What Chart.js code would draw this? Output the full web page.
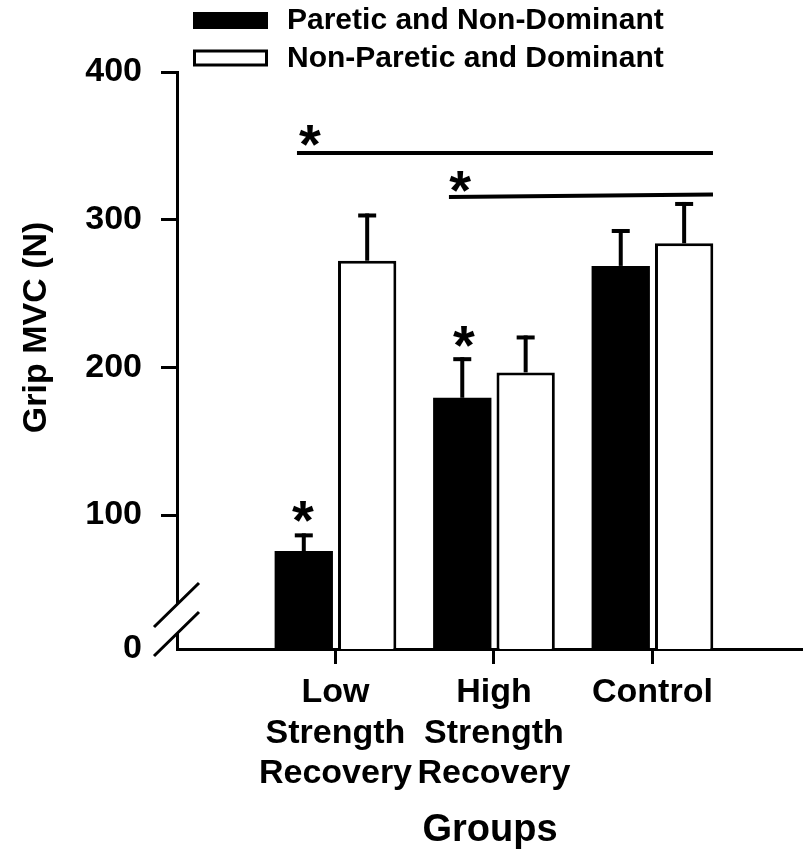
<!DOCTYPE html>
<html>
<head>
<meta charset="utf-8">
<script src="https://cdn.jsdelivr.net/npm/chart.js@4/dist/chart.umd.min.js"></script>
<style>
  html, body { margin: 0; padding: 0; background: #fff; }
  #wrap { width: 803px; height: 855px; position: relative; }
</style>
</head>
<body>
<div id="wrap"><canvas id="gripChart"></canvas></div>
<script>
// groups along the x axis
const groupLabels = [['Low', 'Strength', 'Recovery'], ['High', 'Strength', 'Recovery'], ['Control']];
const groupPos = [1, 2, 3];
const xMax = 3.95;

// Grip MVC (N), mean and upper error
const pareticMean = [75.6, 179.4, 268.7];
const pareticErr = [12, 27.5, 25];
const nonPareticMean = [272.2, 196.6, 284.0];
const nonPareticErr = [32, 25, 28];

// broken y axis: bottom of the axis is labelled 0
const yBreakMin = 9.3;
const yTickValues = [yBreakMin, 100, 200, 300, 400];
const yTickLabels = ['0', '100', '200', '300', '400'];

// significance bars and asterisks (data units)
const sig1X = [0.757, 3.382];
const sig1Y = [345.1, 345.1];
const sig2X = [1.716, 3.382];
const sig2Y = [315.3, 317.0];
const starX = [0.839, 1.786, 0.795, 1.811];
const starY = [357.3, 325.7, 102.7, 220.7];

const FONT = 'Liberation Sans, Arial, sans-serif';
const BLACK = '#000';

const extras = {
    id: 'extras',
    afterDatasetsDraw(chart) {
        const ctx = chart.ctx;
        const yScale = chart.scales.y;
        const errs = [pareticErr, nonPareticErr];
        const means = [pareticMean, nonPareticMean];
        ctx.save();
        ctx.strokeStyle = BLACK;
        ctx.fillStyle = BLACK;
        for (let d = 0; d < 2; d++) {
            const meta = chart.getDatasetMeta(d);
            meta.data.forEach((bar, i) => {
                const yTop = yScale.getPixelForValue(means[d][i] + errs[d][i]);
                ctx.lineWidth = 4;
                ctx.beginPath();
                ctx.moveTo(bar.x, bar.y);
                ctx.lineTo(bar.x, yTop);
                ctx.stroke();
                ctx.fillRect(bar.x - 9, yTop, 18, 4);
            });
        }
        ctx.restore();
    },
    afterDraw(chart) {
        const ctx = chart.ctx;
        const {left, bottom} = chart.chartArea;
        const xs = chart.scales.x, ys = chart.scales.y;
        ctx.save();

        // axis break
        ctx.fillStyle = '#fff';
        ctx.fillRect(left - 4, bottom - 45, 8, 29);
        ctx.strokeStyle = BLACK;
        ctx.lineWidth = 3;
        ctx.beginPath();
        ctx.moveTo(left - 23, bottom - 22);
        ctx.lineTo(left + 22, bottom - 66);
        ctx.moveTo(left - 23, bottom + 7);
        ctx.lineTo(left + 22, bottom - 37);
        ctx.stroke();

        // asterisks
        ctx.fillStyle = BLACK;
        ctx.font = 'bold 56px ' + FONT;
        ctx.textAlign = 'center';
        ctx.textBaseline = 'alphabetic';
        const m = ctx.measureText('*');
        const mid = (m.actualBoundingBoxAscent - m.actualBoundingBoxDescent) / 2;
        starX.forEach((sx, i) => {
            ctx.fillText('*', xs.getPixelForValue(sx), ys.getPixelForValue(starY[i]) + mid);
        });

        // legend
        ctx.textAlign = 'left';
        ctx.textBaseline = 'middle';
        ctx.font = 'bold 30px ' + FONT;
        const rows = [12, 49.5];
        chart.data.datasets.slice(0, 2).forEach((ds, i) => {
            const y = rows[i];
            if (i === 0) {
                ctx.fillStyle = BLACK;
                ctx.fillRect(193, y, 75, 17);
            } else {
                ctx.fillStyle = '#fff';
                ctx.fillRect(193, y, 75, 17);
                ctx.lineWidth = 3;
                ctx.strokeRect(194.5, y + 1.5, 72, 14);
            }
            ctx.fillStyle = BLACK;
            ctx.fillText(ds.label, 287, y + 9);
        });
        ctx.restore();
    }
};

document.addEventListener('DOMContentLoaded', function () {
    const el = document.getElementById('gripChart');
    Chart.defaults.font.family = FONT;
    Chart.defaults.font.weight = 'bold';
    Chart.defaults.color = BLACK;

    new Chart(el, {
        type: 'bar',
        data: {
            datasets: [{
                label: 'Paretic and Non-Dominant',
                data: groupPos.map((x, i) => ({x: x, y: pareticMean[i]})),
                backgroundColor: BLACK,
                borderColor: BLACK,
                borderWidth: 0,
                categoryPercentage: 0.8,
                barPercentage: 0.92
            }, {
                label: 'Non-Paretic and Dominant',
                data: groupPos.map((x, i) => ({x: x, y: nonPareticMean[i]})),
                backgroundColor: '#fff',
                borderColor: BLACK,
                borderWidth: 3,
                categoryPercentage: 0.8,
                barPercentage: 0.92
            }, {
                type: 'line',
                label: 'sig1',
                data: sig1X.map((x, i) => ({x: x, y: sig1Y[i]})),
                borderColor: BLACK,
                borderWidth: 4,
                pointRadius: 0,
                fill: false
            }, {
                type: 'line',
                label: 'sig2',
                data: sig2X.map((x, i) => ({x: x, y: sig2Y[i]})),
                borderColor: BLACK,
                borderWidth: 4,
                pointRadius: 0,
                fill: false
            }]
        },
        options: {
            responsive: true,
            maintainAspectRatio: false,
            animation: false,
            layout: { padding: { left: 0, right: 0, top: 72, bottom: 0 } },
            scales: {
                x: {
                    type: 'linear',
                    min: 0,
                    max: xMax,
                    offset: false,
                    afterBuildTicks: scale => { scale.ticks = groupPos.map(v => ({value: v})); },
                    afterFit: scale => { scale.height = 206; },
                    grid: {
                        offset: false,
                        drawOnChartArea: false,
                        drawTicks: true,
                        tickLength: 15,
                        tickWidth: 3,
                        tickColor: BLACK
                    },
                    border: { display: true, color: BLACK, width: 3 },
                    ticks: {
                        autoSkip: false,
                        maxRotation: 0,
                        padding: 8,
                        font: { size: 34, weight: 'bold', lineHeight: 1.2 },
                        callback: (v, i) => groupLabels[i]
                    },
                    title: {
                        display: true,
                        text: 'Groups',
                        font: { size: 38, weight: 'bold', lineHeight: 1 },
                        padding: { top: 0, bottom: 5 }
                    }
                },
                y: {
                    min: yBreakMin,
                    max: 400,
                    beginAtZero: false,
                    afterBuildTicks: scale => { scale.ticks = yTickValues.map(v => ({value: v})); },
                    afterFit: scale => { scale.width = 177; },
                    grid: {
                        drawOnChartArea: false,
                        drawTicks: true,
                        tickLength: 16,
                        tickWidth: 3,
                        tickColor: c => (c.tick && c.tick.value === yBreakMin) ? 'rgba(0,0,0,0)' : BLACK
                    },
                    border: { display: true, color: BLACK, width: 3 },
                    ticks: {
                        padding: 19,
                        font: { size: 34, weight: 'bold' },
                        callback: (v, i) => yTickLabels[i]
                    },
                    title: {
                        display: true,
                        text: '       Grip MVC (N)',
                        font: { size: 34, weight: 'bold', lineHeight: 1.2 },
                        padding: { top: 16, bottom: 0 }
                    }
                }
            },
            plugins: {
                legend: { display: false },
                tooltip: { enabled: false }
            }
        },
        plugins: [extras]
    });
});
</script>
</body>
</html>
